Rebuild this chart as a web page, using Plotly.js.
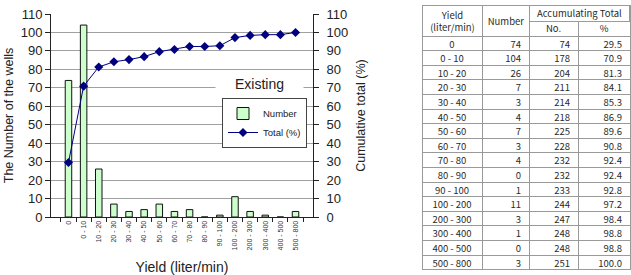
<!DOCTYPE html>
<html>
<head>
<meta charset="utf-8">
<script src="https://cdn.plot.ly/plotly-3.0.1.min.js"></script>
<style>
  html, body { margin: 0; padding: 0; background: #fff; }
  #chart { width: 631px; height: 275px; }
</style>
</head>
<body>
<div id="chart"></div>
<script>
// Yield classes (liter/min)
const yieldClasses = ["0", "0 - 10", "10 - 20", "20 - 30", "30 - 40", "40 - 50", "50 - 60",
  "60 - 70", "70 - 80", "80 - 90", "90 - 100", "100 - 200", "200 - 300", "300 - 400",
  "400 - 500", "500 - 800"];
// Number of wells in each class
const wellCounts = [74, 104, 26, 7, 3, 4, 7, 3, 4, 0, 1, 11, 3, 1, 0, 3];
// Accumulating total: count and percentage
const accumCounts = [74, 178, 204, 211, 214, 218, 225, 228, 232, 232, 233, 244, 247, 248, 248, 251];
const accumPercent = [29.5, 70.9, 81.3, 84.1, 85.3, 86.9, 89.6, 90.8, 92.4, 92.4, 92.8, 97.2, 98.4, 98.8, 98.8, 100.0];
// Axis ticks
const countTicks = [0, 10, 20, 30, 40, 50, 60, 70, 80, 90, 100, 110];

const W = 631, H = 275;
const px = x => x / W;
const py = y => 1 - y / H;

const FONT = "Liberation Sans, Arial, sans-serif";
const TFONT = "Noto Sans CJK JP, DejaVu Sans, sans-serif";
const gridCol = "#a0a0a0";
const tableLine = "#9a9a9a";
const tableText = "#2a2a2a";
const tableFontSize = 9.5;

// table geometry (pixels)
const tLeft = 422, tTop = 5;
const colW = [60, 47, 49, 52];
const headRowH = 15.5, rowH = 14.6;
// raise cell text so it sits in the middle of its row
const textLift = 3.5;

const bars = {
  type: "bar",
  name: "Number",
  x: yieldClasses,
  y: wellCounts,
  xaxis: "x", yaxis: "y",
  marker: { color: "#ccffcc", line: { color: "#111", width: 1 } },
  hoverinfo: "x+y"
};

const totalLine = {
  type: "scatter",
  mode: "lines+markers",
  name: "Total (%)",
  x: yieldClasses,
  y: accumPercent,
  xaxis: "x", yaxis: "y2",
  line: { color: "#000080", width: 1 },
  marker: { color: "#000080", symbol: "diamond", size: 7 }
};

const table = {
  type: "table",
  domain: { x: [px(tLeft), px(tLeft + colW.reduce((a, b) => a + b, 0))], y: [0, py(tTop)] },
  columnwidth: colW,
  header: {
    // second header row holds the sub-columns; merged cells are overlaid below
    values: [["", ""], ["", ""], ["", "No."], ["", "%"]],
    align: "center",
    height: headRowH,
    line: { color: tableLine, width: 1 },
    fill: { color: "#fff" },
    font: { family: TFONT, size: tableFontSize, color: tableText }
  },
  cells: {
    values: [yieldClasses, wellCounts, accumCounts, accumPercent.map(v => v.toFixed(1))],
    align: ["center", "right", "right", "right"],
    height: rowH,
    line: { color: tableLine, width: 1 },
    fill: { color: "#fff" },
    font: { family: TFONT, size: tableFontSize, color: tableText }
  }
};

// merged header cells
function headerCell(text, x0, w, h) {
  return {
    text: text, xref: "paper", yref: "paper",
    x: px(x0), y: py(tTop), xanchor: "left", yanchor: "top",
    showarrow: false, font: { family: TFONT, size: tableFontSize, color: tableText },
    bgcolor: "#fff", bordercolor: tableLine, borderwidth: 1, borderpad: 0,
    width: w - 2, height: h - 2, align: "center", valign: "middle"
  };
}

const layout = {
  width: W, height: H,
  margin: { l: 0, r: 0, t: 0, b: 0, pad: 0 },
  paper_bgcolor: "#fff",
  plot_bgcolor: "#fff",
  font: { family: FONT, color: "#222" },
  showlegend: true,
  bargap: 0.57,
  xaxis: {
    domain: [px(51), px(313)],
    type: "category",
    tickangle: -90,
    tickfont: { size: 7, color: "#333" },
    ticks: "outside", tickson: "boundaries", ticklen: 4, tickcolor: "#222",
    showline: true, linecolor: "#222", linewidth: 1,
    showgrid: false,
    title: { text: "Yield (liter/min)", font: { size: 14, color: "#222" }, standoff: 14 },
    automargin: false
  },
  yaxis: {
    domain: [1 - 217 / H, 1 - 14 / H],
    range: [0, 110],
    tickvals: countTicks,
    ticks: "outside", ticklen: 5, tickcolor: "#222",
    tickfont: { size: 13 },
    showline: true, linecolor: "#222", linewidth: 1,
    showgrid: true, gridcolor: gridCol, gridwidth: 1,
    zeroline: false,
    title: { text: "The Number of the wells", font: { size: 12.5 }, standoff: 4 },
    automargin: false
  },
  yaxis2: {
    overlaying: "y", side: "right", anchor: "x",
    range: [0, 110],
    tickvals: countTicks,
    ticks: "outside", ticklen: 5, tickcolor: "#222",
    ticklabelstandoff: 5,
    tickfont: { size: 13 },
    showline: true, linecolor: "#222", linewidth: 1,
    showgrid: false, zeroline: false,
    title: { text: "Cumulative total (%)", font: { size: 12.5 }, standoff: 8 },
    automargin: false
  },
  legend: {
    x: px(222), y: py(98), xanchor: "left", yanchor: "top",
    bgcolor: "#fff", bordercolor: "#444", borderwidth: 1,
    font: { size: 9.5, color: "#222" },
    itemwidth: 30, tracegroupgap: 0
  },
  annotations: [
    {
      text: "Existing", xref: "paper", yref: "paper",
      x: px(259.5), y: py(84), xanchor: "center", yanchor: "middle",
      showarrow: false, font: { size: 14, color: "#222" },
      bgcolor: "#fff", width: 85, height: 16
    },
    headerCell("Yield<br>(liter/min)", tLeft, colW[0] + 1, 2 * headRowH + 1),
    headerCell("Number", tLeft + colW[0], colW[1] + 1, 2 * headRowH + 1),
    headerCell("Accumulating Total", tLeft + colW[0] + colW[1], colW[2] + colW[3], headRowH + 1)
  ]
};

Plotly.newPlot("chart", [bars, totalLine, table], layout, { displayModeBar: false, staticPlot: true })
  .then(gd => {
    gd.querySelectorAll(".table .cell-text").forEach(t => {
      const tr = t.getAttribute("transform") || "";
      t.setAttribute("transform", tr + " translate(0," + (-textLift) + ")");
    });
  });
</script>
</body>
</html>
